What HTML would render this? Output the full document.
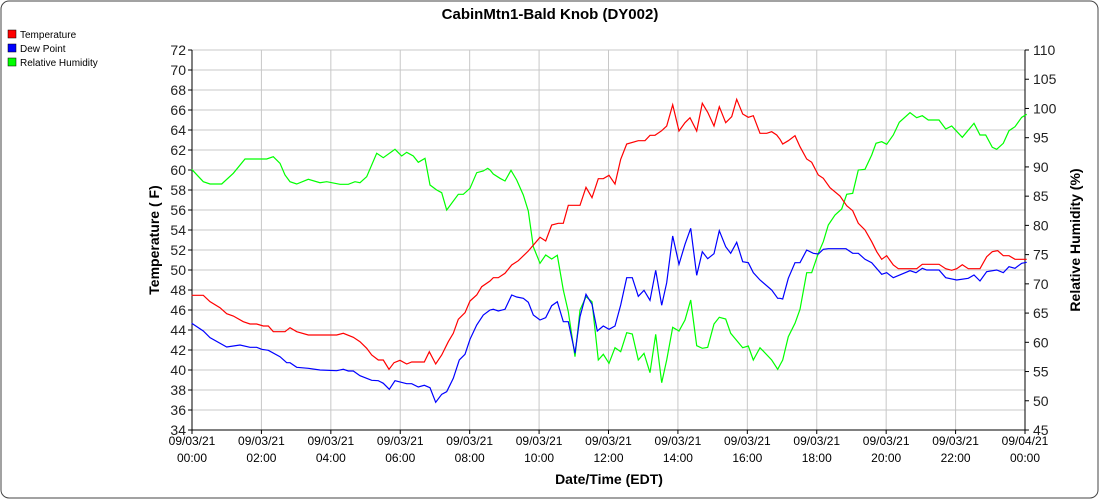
<!DOCTYPE html>
<html><head><meta charset="utf-8"><style>
body{margin:0;background:#fff;}
svg{display:block;font-family:"Liberation Sans",sans-serif;}
</style></head><body>
<svg id="s" width="1100" height="500" xmlns="http://www.w3.org/2000/svg">
<rect x="1" y="1" width="1097" height="497" rx="8" fill="#fff" stroke="#444" stroke-width="1"/>
<text x="550" y="19" font-size="15" font-weight="bold" text-anchor="middle">CabinMtn1-Bald Knob (DY002)</text>
<rect x="8" y="30" width="8" height="8" fill="#f00" stroke="#000" stroke-width="0.5"/>
<text x="20" y="38" font-size="10">Temperature</text>
<rect x="8" y="44" width="8" height="8" fill="#00f" stroke="#000" stroke-width="0.5"/>
<text x="20" y="52" font-size="10">Dew Point</text>
<rect x="8" y="58" width="8" height="8" fill="#0f0" stroke="#000" stroke-width="0.5"/>
<text x="20" y="66" font-size="10">Relative Humidity</text>
<g id="grid"></g>
<g id="series"></g>
<text transform="translate(159,240) rotate(-90)" font-size="14" font-weight="bold" text-anchor="middle">Temperature ( F)</text>
<text transform="translate(1080,240) rotate(-90)" font-size="14" font-weight="bold" text-anchor="middle">Relative Humidity (%)</text>
<text x="609" y="484" font-size="14" font-weight="bold" text-anchor="middle">Date/Time (EDT)</text>
</svg>
<script>
var NS="http://www.w3.org/2000/svg",g=document.getElementById("grid"),se=document.getElementById("series");
function el(t,a,p,txt){var e=document.createElementNS(NS,t);for(var k in a)e.setAttribute(k,a[k]);if(txt!=null)e.textContent=txt;p.appendChild(e);return e;}
var L=192,R=1025,T=50,B=430;
for(var v=34;v<=72;v+=2){var y=B-(v-34)*10;
 el("line",{x1:L,x2:R,y1:y,y2:y,stroke:"#c8c8c8"},g);
 el("line",{x1:L-4,x2:L,y1:y,y2:y,stroke:"#000"},g);
 el("text",{x:L-6,y:y+5,"font-size":14,"text-anchor":"end",fill:"#222"},g,v);}
for(var i=0;i<=13;i++){var v2=45+i*5,y2=B-i*380/13;
 el("line",{x1:R,x2:R+4,y1:y2,y2:y2,stroke:"#000"},g);
 el("text",{x:R+8,y:y2+5,"font-size":14,fill:"#222"},g,v2);}
var labs=["09/03/21|00:00","09/03/21|02:00","09/03/21|04:00","09/03/21|06:00","09/03/21|08:00","09/03/21|10:00","09/03/21|12:00","09/03/21|14:00","09/03/21|16:00","09/03/21|18:00","09/03/21|20:00","09/03/21|22:00","09/04/21|00:00"];
for(var i=0;i<=12;i++){var x=L+i*(R-L)/12;
 el("line",{x1:x,x2:x,y1:T,y2:B,stroke:"#c8c8c8"},g);
 el("line",{x1:x,x2:x,y1:B,y2:B+4,stroke:"#000"},g);
 var p=labs[i].split("|");
 el("text",{x:x,y:445,"font-size":12,"text-anchor":"middle"},g,p[0]);
 el("text",{x:x,y:462,"font-size":12,"text-anchor":"middle"},g,p[1]);}
el("line",{x1:L,x2:L,y1:T,y2:B,stroke:"#000"},g);
el("line",{x1:R,x2:R,y1:T,y2:B,stroke:"#000"},g);
el("line",{x1:L,x2:R,y1:B,y2:B,stroke:"#000"},g);
var Z={
g1:[[5,88],[40,125],[60,132],[95,132],[130,100],[165,57],[230,57],[250,50],[270,70],[285,105],[300,125],[320,132],[355,118],[390,128],[410,125],[450,133],[475,133],[495,125],[510,128],[530,110],[560,40],[580,53],[615,28],[635,48],[650,37],[670,48],[685,67],[705,55],[720,135],[740,150],[755,158],[770,210],[805,163],[820,163],[840,145],[860,98],[880,93],[893,85],[900,90]],
r1:[[5,466],[40,466],[60,485],[90,503],[110,521],[130,528],[160,545],[180,552],[200,552],[220,558],[235,558],[250,575],[285,575],[300,563],[320,575],[355,585],[440,585],[460,580],[490,592],[510,605],[530,625],[545,645],[565,660],[580,660],[597,688],[612,668],[630,661],[650,672],[665,666],[703,666],[718,635],[737,672],[755,645],[775,605],[790,580],[805,538],[825,518],[840,483],[860,465],[875,440],[900,423]],
b1:[[5,550],[40,573],[60,593],[110,621],[150,615],[180,622],[200,622],[215,628],[235,631],[270,650],[290,668],[300,668],[320,682],[355,685],[390,690],[440,692],[460,688],[475,693],[490,693],[510,707],[545,721],[565,722],[580,730],[598,748],[615,722],[650,731],[665,731],[685,741],[703,736],[720,743],[737,787],[755,763],[770,755],[790,715],[808,660],[825,643],[840,598],[860,555],[880,525],[900,510]],
r2:[[0,600],[20,580],[40,563],[55,563],[75,550],[95,525],[115,512],[145,483],[180,442],[197,453],[215,405],[235,400],[250,400],[265,346],[300,346],[318,292],[336,323],[355,266],[370,266],[387,256],[405,282],[422,208],[440,162],[475,152],[495,152],[510,136],[525,136],[545,122],[560,108],[578,44],[597,123],[615,98],[630,83],[650,123],[667,40],[683,67],[702,108],[718,50],[737,98],[755,80],[770,28],[788,72],[805,82],[820,77],[840,130],[860,130],[875,125],[890,135],[900,148]],
b2:[[0,690],[25,663],[40,658],[55,663],[75,658],[95,615],[110,621],[130,625],[145,637],[160,675],[180,690],[197,683],[215,647],[232,635],[250,695],[265,695],[285,790],[300,680],[318,613],[336,643],[352,723],[370,708],[387,718],[405,708],[422,645],[440,563],[457,563],[475,619],[492,601],[510,631],[527,541],[545,646],[560,578],[578,438],[597,523],[615,463],[632,415],[650,556],[667,485],[683,506],[702,491],[718,422],[737,470],[752,490],[770,457],[788,515],[805,518],[820,548],[840,570],[875,600],[893,625],[900,625]],
g2:[[0,245],[25,235],[40,252],[60,265],[75,273],[93,241],[110,270],[130,315],[145,363],[160,470],[180,520],[197,495],[215,507],[232,496],[250,600],[265,665],[285,800],[300,660],[318,620],[336,635],[355,810],[370,793],[387,820],[405,773],[422,785],[440,728],[457,732],[475,810],[492,790],[510,848],[527,733],[545,878],[560,810],[578,712],[597,723],[615,690],[632,630],[650,767],[667,775],[683,772],[702,702],[718,682],[737,687],[752,730],[788,773],[805,768],[820,810],[840,773],[875,810],[893,838],[900,825]],
r3:[[0,130],[20,130],[35,125],[50,133],[68,162],[85,152],[105,137],[120,170],[140,207],[155,217],[175,255],[190,265],[210,293],[240,318],[260,347],[278,362],[295,400],[315,420],[335,455],[350,485],[365,508],[380,497],[400,525],[415,536],[470,536],[487,523],[537,523],[557,536],[575,541],[590,536],[607,524],[625,536],[660,536],[680,500],[697,485],[713,482],[730,497],[747,497],[765,508],[800,508]],
b3:[[0,567],[35,600],[52,625],[68,627],[85,565],[105,518],[120,518],[140,480],[160,490],[175,492],[190,478],[205,476],[258,476],[278,490],[295,490],[315,508],[335,518],[365,553],[380,548],[400,563],[450,542],[468,548],[487,535],[500,540],[537,540],[557,563],[590,570],[625,565],[642,555],[660,573],[680,545],[710,540],[730,548],[747,530],[765,535],[785,520],[800,517]],
g3:[[0,773],[20,790],[52,838],[68,810],[85,740],[105,700],[120,658],[140,548],[155,548],[175,490],[190,455],[205,405],[225,375],[245,357],[260,313],[278,310],[295,240],[315,238],[335,195],[348,160],[365,155],[380,163],[400,135],[418,97],[450,68],[470,83],[487,77],[505,90],[537,90],[557,117],[575,108],[607,142],[642,100],[660,135],[677,135],[697,172],[710,178],[730,160],[747,122],[765,110],[785,82],[800,73]]};
var off=[[190,140],[480,90],[760,90]];
function build(k,col){var pts=[],lx=-1;for(var i=0;i<3;i++){var a=Z[k+(i+1)];a.forEach(function(p){var x=off[i][0]+p[0]/3,y=off[i][1]+p[1]/3;if(x>lx+0.5){pts.push(x.toFixed(1)+","+y.toFixed(1));lx=x;}});}
 el("polyline",{points:pts.join(" "),fill:"none",stroke:col,"stroke-width":1.2},se);}
build("g","#00ff00");build("b","#0000ff");build("r","#ff0000");
</script>
</body></html>
